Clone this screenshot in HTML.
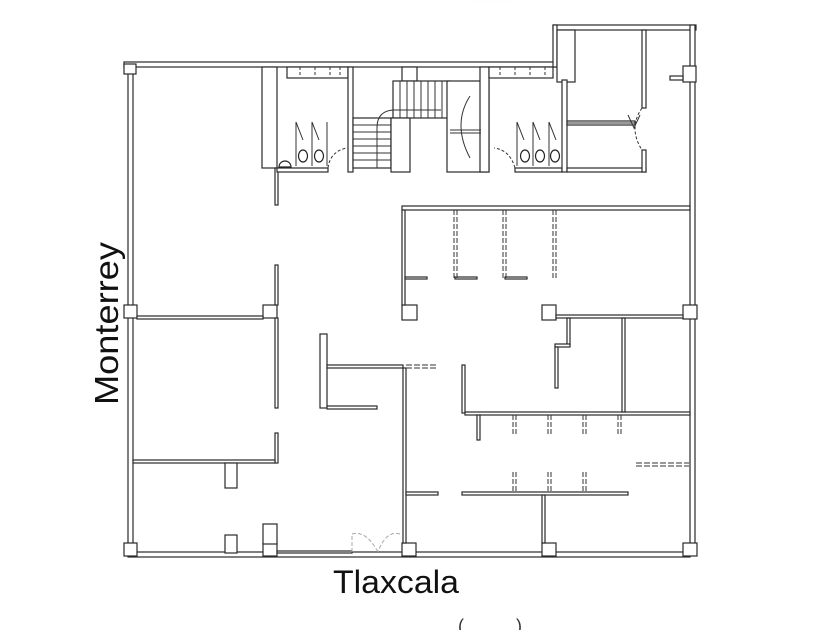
<!DOCTYPE html>
<html><head><meta charset="utf-8"><style>
html,body{margin:0;padding:0;background:#fff;width:840px;height:630px;overflow:hidden}
svg{display:block}
</style></head><body>
<svg width="840" height="630" viewBox="0 0 840 630" xmlns="http://www.w3.org/2000/svg">
<defs><radialGradient id="pk" cx="50%" cy="0%" r="60%"><stop offset="0" stop-color="#e8b8b8"/><stop offset="1" stop-color="#fff" stop-opacity="0"/></radialGradient></defs>
<ellipse cx="490" cy="0" rx="90" ry="22" fill="url(#pk)"/>
<g fill="#fff" stroke="#2a2a2a" stroke-width="1.2">
<!-- outer walls -->
<rect x="124" y="62" width="433" height="5"/>
<rect x="553" y="25" width="143" height="5"/>
<rect x="553" y="25" width="4" height="42"/>
<rect x="690" y="25" width="5" height="530"/>
<rect x="128" y="72" width="5" height="480"/>
<rect x="128" y="552" width="562" height="5"/>
<rect x="557" y="30" width="18" height="52"/>
<!-- columns -->
<rect x="124" y="64" width="12" height="10"/>
<rect x="683" y="66" width="13" height="16"/>
<rect x="670" y="76" width="13" height="4"/>
<rect x="124" y="305" width="13" height="13"/>
<rect x="263" y="305" width="14" height="13"/>
<rect x="402" y="305" width="15" height="15"/>
<rect x="542" y="305" width="14" height="15"/>
<rect x="683" y="305" width="14" height="14"/>
<rect x="124" y="543" width="13" height="13"/>
<rect x="263" y="543" width="14" height="13"/>
<rect x="402" y="543" width="14" height="13"/>
<rect x="542" y="543" width="14" height="13"/>
<rect x="683" y="543" width="14" height="13"/>
<!-- bathroom 1 -->
<rect x="262" y="67" width="15" height="101"/>
<rect x="275" y="168" width="3" height="37"/>
<rect x="277" y="168" width="51" height="4"/>
<rect x="287" y="67" width="61" height="11"/>
<rect x="348" y="67" width="5" height="105"/>
<!-- stair -->
<rect x="402" y="67" width="15" height="14"/>
<rect x="393" y="81" width="57" height="37"/>
<rect x="353" y="118" width="38" height="50"/>
<rect x="391" y="118" width="19" height="54"/>
<rect x="447" y="81" width="42" height="91"/>
<rect x="480" y="67" width="9" height="105"/>
<rect x="489" y="67" width="64" height="11"/>
<rect x="515" y="168" width="47" height="4"/>
<rect x="562" y="80" width="5" height="92"/>
<rect x="567" y="168" width="79" height="4"/>
<rect x="567" y="121" width="68" height="4"/>
<rect x="642" y="30" width="4" height="78"/>
<rect x="642" y="150" width="4" height="22"/>
<!-- left rooms -->
<rect x="137" y="316" width="126" height="3"/>
<rect x="275" y="265" width="3" height="40"/>
<rect x="275" y="318" width="3" height="90"/>
<rect x="275" y="433" width="3" height="30"/>
<rect x="133" y="460" width="142" height="3"/>
<rect x="225" y="463" width="12" height="25"/>
<rect x="225" y="535" width="12" height="18"/>
<rect x="263" y="524" width="14" height="20"/>
<rect x="277" y="551" width="75" height="2"/>
<!-- center T -->
<rect x="320" y="334" width="7" height="74"/>
<rect x="327" y="365" width="76" height="3"/>
<rect x="327" y="406" width="50" height="3"/>
<rect x="403" y="368" width="3" height="175"/>
<rect x="406" y="492" width="32" height="3"/>
<rect x="462" y="492" width="166" height="3"/>
<rect x="542" y="495" width="3" height="48"/>
<!-- middle right -->
<rect x="462" y="365" width="3" height="48"/>
<rect x="465" y="412" width="225" height="3"/>
<rect x="556" y="315" width="127" height="3"/>
<rect x="622" y="318" width="3" height="94"/>
<rect x="567" y="318" width="3" height="27"/>
<rect x="555" y="344" width="15" height="3"/>
<rect x="555" y="347" width="3" height="41"/>
<rect x="477" y="415" width="3" height="25"/>
<!-- upper middle -->
<rect x="402" y="206" width="288" height="4"/>
<rect x="402" y="210" width="3" height="95"/>
<rect x="405" y="277" width="22" height="2"/>
<rect x="455" y="277" width="22" height="2"/>
<rect x="505" y="277" width="22" height="2"/>
</g>
<!-- dashed stubs -->
<g stroke="#333" stroke-width="1" fill="none">
<path d="M454 210V278M457 210V278M503 210V278M506 210V278M553 210V278M556 210V278" stroke-dasharray="5 2"/>
<path d="M513 415V436M516 415V436M548 415V436M551 415V436M583 415V436M586 415V436M618 415V436M621 415V436" stroke-dasharray="5 2"/>
<path d="M513 472V492M516 472V492M548 472V492M551 472V492M583 472V492M586 472V492" stroke-dasharray="5 2"/>
<path d="M406 365H438M406 368H438M636 463H689M636 466H689" stroke-dasharray="6 2"/>
<path d="M300 67V76M315 67V76M330 67V76M340 67V76M500 67V76M515 67V76M530 67V76M545 67V76" stroke-dasharray="3 2"/>
<!-- stair lines -->
<path d="M400 81V118M407 81V118M414 81V118M421 81V118M428 81V118M435 81V118M442 81V118"/>
<path d="M353 125H391M353 132H391M353 139H391M353 146H391M353 153H391M353 160H391"/>
<path d="M377 168V128Q377 110 395 110H441"/>
<path d="M450 130H481M450 133H481"/>
<path d="M567 123H636"/>
<!-- door arcs -->
<path d="M328 168Q330 152 346 148" stroke-dasharray="3 2"/>
<path d="M515 168Q510 150 494 148" stroke-dasharray="3 2"/>
<path d="M642 108Q628 128 642 150" stroke-dasharray="3 2"/>
<path d="M470 96Q452 124 470 158"/>
<path d="M352 552V534Q366 530 378 552M400 534Q386 530 378 552" stroke="#aaa" stroke-dasharray="4 2"/>
<!-- urinals / toilets -->
<path d="M296 166V122L303 140M312 166V122L319 140M327 166V122" />
<path d="M517 166V122L524 140M533 166V122L540 140M549 166V122L556 140M562 166V122"/>
<path d="M628 115L634 128L640 115" />
</g>
<g fill="#fff" stroke="#222" stroke-width="1.2">
<ellipse cx="303" cy="156" rx="4.5" ry="6"/><ellipse cx="319" cy="156" rx="4.5" ry="6"/>
<ellipse cx="525" cy="156" rx="4.5" ry="6"/><ellipse cx="540" cy="156" rx="4.5" ry="6"/><ellipse cx="555" cy="156" rx="4.5" ry="6"/>
<path d="M279 167A6 6 0 0 1 291 167Z"/>
</g>
<text x="0" y="0" transform="translate(118,405) rotate(-90)" font-family="Liberation Sans, sans-serif" font-size="33" fill="#111" textLength="163" lengthAdjust="spacingAndGlyphs">Monterrey</text>
<text x="333" y="593" font-family="Liberation Sans, sans-serif" font-size="32" fill="#111" textLength="126" lengthAdjust="spacingAndGlyphs">Tlaxcala</text>
<text x="458" y="632" font-family="Liberation Sans, sans-serif" font-size="18" fill="#333">(</text>
<text x="516" y="632" font-family="Liberation Sans, sans-serif" font-size="18" fill="#333">)</text>
</svg>
</body></html>
